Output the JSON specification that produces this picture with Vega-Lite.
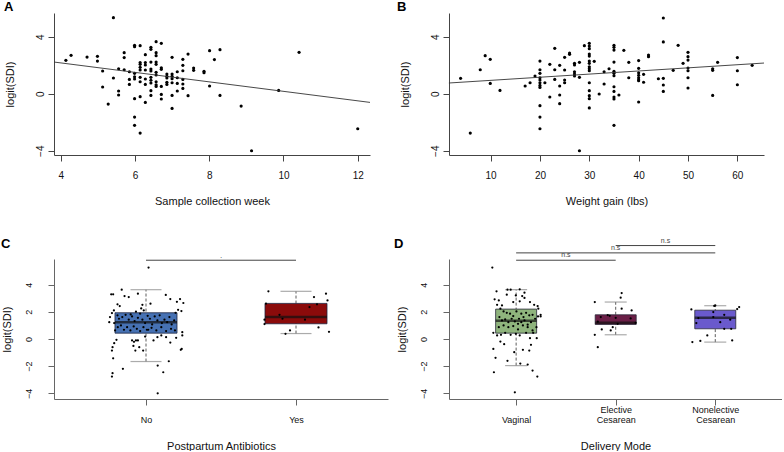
{
"$schema": "https://vega.github.io/schema/vega-lite/v6.json",
"autosize": {"type": "pad"},
"padding": {"left": 0, "top": 0, "right": 0, "bottom": 0},
"background": "white",
"config": {
 "font": "Liberation Sans",
 "view": {"stroke": null},
 "axis": {"grid": false, "domainColor": "#444", "tickColor": "#444", "labelColor": "#111", "titleColor": "#111", "titleFontWeight": "normal", "labelFontSize": 10, "titleFontSize": 11, "tickSize": 6, "domainWidth": 1, "tickWidth": 1},
 "title": {"fontSize": 13, "fontWeight": "bold", "anchor": "start", "frame": "bounds", "color": "black", "baseline": "alphabetic", "offset": 2}
},
"resolve": {"scale": {"color": "independent"}},
"datasets": {
 "a": [
 {"week":5.42,"sdi":5.33},{"week":4.14,"sdi":2.34},{"week":4.28,"sdi":2.69},{"week":4.71,"sdi":2.57},{"week":4.99,"sdi":2.62},{"week":4.99,"sdi":2.29},{"week":5.13,"sdi":1.59},{"week":5.13,"sdi":0.47},{"week":5.28,"sdi":-0.73},{"week":5.42,"sdi":1.10},
 {"week":5.56,"sdi":1.75},{"week":5.56,"sdi":0.19},{"week":5.56,"sdi":-0.09},{"week":5.71,"sdi":2.88},{"week":5.71,"sdi":2.53},{"week":5.71,"sdi":1.68},{"week":5.85,"sdi":1.54},{"week":5.85,"sdi":1.0},{"week":5.85,"sdi":0.65},
 {"week":5.99,"sdi":3.39},{"week":5.99,"sdi":3.30},{"week":5.99,"sdi":1.43},{"week":5.99,"sdi":1.19},{"week":5.99,"sdi":1.03},{"week":5.99,"sdi":-0.35},{"week":5.99,"sdi":-1.64},{"week":5.99,"sdi":-2.22},
 {"week":6.14,"sdi":3.37},{"week":6.14,"sdi":2.18},{"week":6.14,"sdi":2.06},{"week":6.14,"sdi":1.85},{"week":6.14,"sdi":1.66},{"week":6.14,"sdi":1.15},{"week":6.14,"sdi":0.84},{"week":6.14,"sdi":-0.21},{"week":6.14,"sdi":-2.76},
 {"week":6.28,"sdi":2.74},{"week":6.28,"sdi":2.18},{"week":6.28,"sdi":2.01},{"week":6.28,"sdi":1.66},{"week":6.28,"sdi":1.03},{"week":6.28,"sdi":0.65},{"week":6.28,"sdi":-0.61},
 {"week":6.43,"sdi":3.25},{"week":6.43,"sdi":3.11},{"week":6.43,"sdi":2.22},{"week":6.43,"sdi":1.73},{"week":6.43,"sdi":1.59},{"week":6.43,"sdi":1.15},{"week":6.43,"sdi":0.94},{"week":6.43,"sdi":0.75},{"week":6.43,"sdi":0.21},{"week":6.43,"sdi":-0.12},
 {"week":6.57,"sdi":3.65},{"week":6.57,"sdi":2.88},{"week":6.57,"sdi":2.67},{"week":6.57,"sdi":2.22},{"week":6.57,"sdi":2.06},{"week":6.57,"sdi":1.50},{"week":6.57,"sdi":1.31},{"week":6.57,"sdi":0.84},{"week":6.57,"sdi":0.63},{"week":6.57,"sdi":0.51},
 {"week":6.71,"sdi":3.53},{"week":6.71,"sdi":1.82},{"week":6.71,"sdi":1.71},{"week":6.71,"sdi":0.51},{"week":6.71,"sdi":-0.05},{"week":6.71,"sdi":-0.37},
 {"week":6.86,"sdi":1.38},{"week":6.86,"sdi":1.22},{"week":6.86,"sdi":1.10},{"week":6.86,"sdi":0.80},{"week":6.86,"sdi":0.65},
 {"week":7.0,"sdi":2.55},{"week":7.0,"sdi":1.38},{"week":7.0,"sdi":1.22},{"week":7.0,"sdi":1.05},{"week":7.0,"sdi":0.77},{"week":7.0,"sdi":-0.12},{"week":7.0,"sdi":-1.03},
 {"week":7.14,"sdi":1.54},{"week":7.14,"sdi":1.12},{"week":7.14,"sdi":0.72},{"week":7.14,"sdi":0.19},
 {"week":7.29,"sdi":2.41},{"week":7.29,"sdi":1.99},{"week":7.29,"sdi":1.61},{"week":7.29,"sdi":1.0},{"week":7.29,"sdi":0.68},{"week":7.29,"sdi":0.37},
 {"week":7.43,"sdi":2.78},{"week":7.43,"sdi":-0.14},{"week":7.58,"sdi":1.80},{"week":7.58,"sdi":1.64},{"week":7.86,"sdi":1.57},{"week":7.86,"sdi":1.47},{"week":8.01,"sdi":3.02},{"week":8.01,"sdi":0.54},{"week":8.14,"sdi":2.39},{"week":8.29,"sdi":3.09},{"week":8.29,"sdi":-0.12},{"week":8.86,"sdi":-0.87},{"week":9.14,"sdi":-4.0},{"week":9.87,"sdi":0.23},{"week":10.42,"sdi":2.90},{"week":12.0,"sdi":-2.46}
 ],
 "afit": [{"week":3.82,"sdi":2.22},{"week":12.33,"sdi":-0.61}],
 "b": [
 {"wg":3.92,"sdi":1.08},{"wg":5.88,"sdi":-2.76},{"wg":7.9,"sdi":1.68},{"wg":8.9,"sdi":2.67},{"wg":9.93,"sdi":2.41},{"wg":9.93,"sdi":0.72},{"wg":11.9,"sdi":0.23},{"wg":17,"sdi":0.54},{"wg":18,"sdi":0.77},{"wg":19,"sdi":1.24},
 {"wg":20,"sdi":2.29},{"wg":20,"sdi":1.68},{"wg":20,"sdi":1.43},{"wg":20,"sdi":1.12},{"wg":20,"sdi":0.96},{"wg":20,"sdi":0.77},{"wg":20,"sdi":0.58},{"wg":20,"sdi":0.44},{"wg":20,"sdi":-0.84},{"wg":20,"sdi":-1.64},{"wg":20,"sdi":-2.46},
 {"wg":21,"sdi":0.77},{"wg":22,"sdi":2.06},{"wg":22,"sdi":-0.23},{"wg":23,"sdi":3.18},{"wg":23,"sdi":1.68},{"wg":23,"sdi":1.0},{"wg":24,"sdi":1.99},{"wg":24,"sdi":0.54},{"wg":24,"sdi":-0.09},{"wg":24,"sdi":-0.70},
 {"wg":25,"sdi":2.55},{"wg":25,"sdi":1.66},{"wg":25,"sdi":0.96},{"wg":25,"sdi":0.77},{"wg":26,"sdi":2.85},{"wg":26,"sdi":2.76},
 {"wg":27,"sdi":2.13},{"wg":27,"sdi":2.01},{"wg":27,"sdi":1.54},{"wg":27,"sdi":1.38},{"wg":27,"sdi":1.24},{"wg":28,"sdi":2.2},{"wg":28,"sdi":1.15},{"wg":28,"sdi":-4.0},{"wg":29,"sdi":3.37},
 {"wg":30,"sdi":3.53},{"wg":30,"sdi":3.34},{"wg":30,"sdi":3.16},{"wg":30,"sdi":2.78},{"wg":30,"sdi":2.64},{"wg":30,"sdi":2.29},{"wg":30,"sdi":2.13},{"wg":30,"sdi":1.89},{"wg":30,"sdi":1.75},{"wg":30,"sdi":1.61},{"wg":30,"sdi":0.77},{"wg":30,"sdi":0.21},{"wg":30,"sdi":-0.14},{"wg":30,"sdi":-0.35},{"wg":30,"sdi":-1.0},
 {"wg":31,"sdi":2.27},{"wg":32,"sdi":-0.02},{"wg":33,"sdi":1.54},{"wg":33,"sdi":0.68},{"wg":34,"sdi":1.75},
 {"wg":35,"sdi":3.39},{"wg":35,"sdi":3.25},{"wg":35,"sdi":3.06},{"wg":35,"sdi":2.22},{"wg":35,"sdi":1.57},{"wg":35,"sdi":1.43},{"wg":35,"sdi":1.26},{"wg":35,"sdi":0.49},{"wg":35,"sdi":0.16},{"wg":35,"sdi":-0.23},{"wg":35,"sdi":-0.37},{"wg":35,"sdi":-2.22},
 {"wg":36,"sdi":-0.09},{"wg":37,"sdi":3.04},{"wg":38,"sdi":2.2},{"wg":38,"sdi":1.12},
 {"wg":40,"sdi":2.32},{"wg":40,"sdi":1.78},{"wg":40,"sdi":1.47},{"wg":40,"sdi":1.29},{"wg":40,"sdi":1.12},{"wg":40,"sdi":0.98},{"wg":40,"sdi":0.91},{"wg":40,"sdi":-0.58},
 {"wg":41,"sdi":1.36},{"wg":41,"sdi":0.80},{"wg":42,"sdi":2.71},{"wg":42,"sdi":2.6},{"wg":44,"sdi":1.05},
 {"wg":45,"sdi":5.31},{"wg":45,"sdi":3.63},{"wg":45,"sdi":1.08},{"wg":45,"sdi":0.61},{"wg":45,"sdi":0.16},{"wg":47,"sdi":1.64},{"wg":48,"sdi":3.39},{"wg":49,"sdi":2.13},
 {"wg":50,"sdi":2.90},{"wg":50,"sdi":2.60},{"wg":50,"sdi":2.36},{"wg":50,"sdi":1.80},{"wg":50,"sdi":1.61},{"wg":50,"sdi":1.12},{"wg":50,"sdi":0.40},
 {"wg":55,"sdi":1.75},{"wg":55,"sdi":1.64},{"wg":55,"sdi":-0.12},{"wg":56,"sdi":2.2},{"wg":60,"sdi":2.53},{"wg":60,"sdi":1.61},{"wg":60,"sdi":0.63},{"wg":63,"sdi":1.99}
 ],
 "bfit": [{"wg":1.55,"sdi":0.75},{"wg":65.4,"sdi":2.15}],
 "cbox": [
 {"group":"No","pos":1,"lo":-1.66,"q1":0.43,"med":1.24,"q3":1.93,"hi":3.63},
 {"group":"Yes","pos":2,"lo":0.40,"q1":1.12,"med":1.61,"q3":2.62,"hi":3.51}
 ],
 "cpts": [
 {"pos":1.017,"sdi":5.26},{"pos":0.838,"sdi":3.63},{"pos":0.768,"sdi":3.29},{"pos":0.781,"sdi":3.29},{"pos":0.857,"sdi":3.16},{"pos":0.885,"sdi":3.09},{"pos":0.946,"sdi":3.34},{"pos":1.132,"sdi":3.24},{"pos":1.162,"sdi":2.94},{"pos":1.227,"sdi":2.94},{"pos":1.206,"sdi":2.74},{"pos":1.249,"sdi":2.65},{"pos":1.030,"sdi":2.60},{"pos":0.976,"sdi":2.52},{"pos":0.810,"sdi":2.55},{"pos":0.825,"sdi":2.42},{"pos":0.786,"sdi":2.10},{"pos":0.773,"sdi":1.91},{"pos":0.760,"sdi":1.61},{"pos":0.755,"sdi":1.24},{"pos":0.968,"sdi":2.25},{"pos":0.985,"sdi":2.10},{"pos":0.933,"sdi":2.01},{"pos":0.898,"sdi":1.81},{"pos":1.214,"sdi":2.15},{"pos":1.236,"sdi":2.06},{"pos":1.197,"sdi":1.93},
 {"pos":0.810,"sdi":1.74},{"pos":0.820,"sdi":1.49},{"pos":0.842,"sdi":1.61},{"pos":0.864,"sdi":1.78},{"pos":0.885,"sdi":1.42},{"pos":0.907,"sdi":1.66},{"pos":0.924,"sdi":1.32},{"pos":0.946,"sdi":1.56},{"pos":0.961,"sdi":1.86},{"pos":0.976,"sdi":1.42},{"pos":0.994,"sdi":1.17},{"pos":1.011,"sdi":1.71},{"pos":1.026,"sdi":1.49},{"pos":1.041,"sdi":1.07},{"pos":1.058,"sdi":1.66},{"pos":1.076,"sdi":1.37},{"pos":1.091,"sdi":1.74},{"pos":1.106,"sdi":1.17},{"pos":1.123,"sdi":1.42},{"pos":1.141,"sdi":1.24},{"pos":1.156,"sdi":1.61},{"pos":1.171,"sdi":1.07},{"pos":1.188,"sdi":1.37},
 {"pos":0.812,"sdi":0.87},{"pos":0.833,"sdi":1.0},{"pos":0.853,"sdi":0.68},{"pos":0.874,"sdi":0.87},{"pos":0.896,"sdi":0.63},{"pos":0.918,"sdi":0.92},{"pos":0.939,"sdi":0.75},{"pos":0.961,"sdi":0.58},{"pos":0.983,"sdi":0.87},{"pos":1.015,"sdi":0.68},{"pos":1.037,"sdi":0.82},{"pos":1.069,"sdi":0.63},{"pos":1.102,"sdi":0.87},{"pos":1.134,"sdi":0.58},{"pos":1.167,"sdi":0.75},{"pos":1.193,"sdi":0.63},{"pos":0.788,"sdi":1.17},{"pos":0.794,"sdi":0.63},
 {"pos":0.803,"sdi":-0.06},{"pos":0.788,"sdi":-0.31},{"pos":0.777,"sdi":-0.60},{"pos":0.773,"sdi":-0.85},{"pos":0.907,"sdi":-0.11},{"pos":0.920,"sdi":-0.21},{"pos":0.933,"sdi":-0.11},{"pos":0.946,"sdi":-0.11},{"pos":0.916,"sdi":-0.51},{"pos":0.929,"sdi":-0.85},{"pos":0.981,"sdi":-0.85},{"pos":0.955,"sdi":-0.60},{"pos":0.994,"sdi":0.18},{"pos":1.006,"sdi":0.68},{"pos":1.050,"sdi":-0.11},{"pos":1.102,"sdi":0.26},{"pos":1.134,"sdi":0.13},{"pos":1.162,"sdi":-0.26},{"pos":1.201,"sdi":0.09},{"pos":1.242,"sdi":0.26},{"pos":1.242,"sdi":0.50},{"pos":1.232,"sdi":-0.80},{"pos":1.238,"sdi":-0.73},{"pos":1.076,"sdi":0.13},
 {"pos":0.781,"sdi":-1.42},{"pos":0.846,"sdi":-2.20},{"pos":0.777,"sdi":-2.52},{"pos":0.773,"sdi":-2.77},{"pos":1.078,"sdi":-1.96},{"pos":1.115,"sdi":-2.45},{"pos":1.152,"sdi":-1.64},{"pos":1.078,"sdi":-4.0},
 {"pos":1.816,"sdi":3.51},{"pos":2.12,"sdi":3.09},{"pos":2.2,"sdi":3.34},{"pos":2.21,"sdi":2.84},{"pos":2.09,"sdi":2.35},{"pos":2.14,"sdi":2.55},{"pos":1.80,"sdi":2.6},{"pos":1.89,"sdi":1.78},{"pos":1.91,"sdi":1.49},{"pos":2.06,"sdi":1.42},{"pos":1.79,"sdi":1.42},{"pos":1.79,"sdi":1.1},{"pos":2.15,"sdi":0.85},{"pos":2.22,"sdi":0.53},{"pos":1.96,"sdi":0.63},{"pos":1.93,"sdi":0.38}
 ],
 "csig": [{"x1":1,"x2":2,"y":5.8,"lx":1.5,"ly":6.0,"label":"."}],
 "dbox": [
 {"group":"Vaginal","pos":1,"lo":-1.96,"q1":0.43,"med":1.34,"q3":2.20,"hi":3.63},
 {"group":"Elective","pos":2,"lo":0.31,"q1":1.07,"med":1.2,"q3":1.78,"hi":2.72},
 {"group":"Nonelective","pos":3,"lo":-0.23,"q1":0.75,"med":1.56,"q3":2.12,"hi":2.45}
 ],
 "dpts": [
 {"pos":0.761,"sdi":5.26},{"pos":0.913,"sdi":3.63},{"pos":0.945,"sdi":3.63},{"pos":1.036,"sdi":3.66},{"pos":1.084,"sdi":3.41},{"pos":1.061,"sdi":3.16},{"pos":0.997,"sdi":3.21},{"pos":0.906,"sdi":3.26},{"pos":0.803,"sdi":3.51},{"pos":0.784,"sdi":2.92},{"pos":0.826,"sdi":2.84},{"pos":0.809,"sdi":2.52},{"pos":0.858,"sdi":2.47},{"pos":0.971,"sdi":2.72},{"pos":1.036,"sdi":2.77},{"pos":1.084,"sdi":3.02},{"pos":1.139,"sdi":2.72},{"pos":1.181,"sdi":2.52},{"pos":1.216,"sdi":2.42},{"pos":1.223,"sdi":2.23},{"pos":1.246,"sdi":1.78},{"pos":1.246,"sdi":1.66},{"pos":1.220,"sdi":1.66},
 {"pos":0.842,"sdi":2.23},{"pos":0.874,"sdi":2.03},{"pos":0.906,"sdi":1.93},{"pos":0.939,"sdi":1.86},{"pos":0.971,"sdi":1.69},{"pos":1.003,"sdi":2.03},{"pos":1.029,"sdi":1.49},{"pos":1.052,"sdi":1.86},{"pos":1.074,"sdi":1.61},{"pos":1.100,"sdi":1.93},{"pos":1.132,"sdi":1.74},{"pos":1.165,"sdi":1.78},{"pos":0.832,"sdi":1.61},{"pos":0.858,"sdi":1.37},{"pos":0.890,"sdi":1.44},{"pos":0.922,"sdi":1.24},{"pos":0.955,"sdi":1.49},{"pos":0.987,"sdi":1.29},{"pos":1.019,"sdi":1.12},{"pos":1.052,"sdi":1.24},{"pos":1.084,"sdi":1.37},{"pos":1.116,"sdi":1.05},{"pos":1.149,"sdi":1.24},{"pos":1.191,"sdi":1.49},
 {"pos":0.826,"sdi":0.87},{"pos":0.874,"sdi":1.0},{"pos":0.922,"sdi":0.87},{"pos":0.971,"sdi":0.95},{"pos":1.019,"sdi":0.70},{"pos":1.068,"sdi":1.0},{"pos":1.116,"sdi":0.87},{"pos":1.165,"sdi":0.63},{"pos":1.204,"sdi":0.87},{"pos":0.771,"sdi":0.45},{"pos":0.809,"sdi":0.26},{"pos":0.848,"sdi":0.31},{"pos":0.890,"sdi":0.45},{"pos":0.945,"sdi":0.31},{"pos":0.997,"sdi":0.38},{"pos":1.036,"sdi":0.26},{"pos":1.100,"sdi":0.45},{"pos":1.139,"sdi":0.06},{"pos":1.171,"sdi":0.45},
 {"pos":0.842,"sdi":-0.19},{"pos":0.880,"sdi":-0.38},{"pos":0.771,"sdi":-0.73},{"pos":0.981,"sdi":-0.97},{"pos":1.068,"sdi":-0.80},{"pos":1.132,"sdi":-0.85},{"pos":1.149,"sdi":-0.43},{"pos":1.207,"sdi":0.06},{"pos":0.793,"sdi":-1.39},{"pos":0.913,"sdi":-1.61},{"pos":1.042,"sdi":-1.81},{"pos":1.116,"sdi":-1.88},{"pos":1.165,"sdi":-2.33},{"pos":1.213,"sdi":-2.77},{"pos":0.777,"sdi":-2.45},{"pos":0.987,"sdi":-3.93},
 {"pos":2.06,"sdi":3.38},{"pos":2.05,"sdi":3.04},{"pos":1.79,"sdi":2.72},{"pos":2.06,"sdi":2.23},{"pos":2.16,"sdi":2.10},{"pos":1.85,"sdi":1.61},{"pos":1.92,"sdi":1.76},{"pos":1.94,"sdi":1.71},{"pos":2.0,"sdi":1.56},{"pos":2.15,"sdi":1.51},{"pos":2.02,"sdi":1.12},{"pos":2.20,"sdi":1.19},{"pos":1.82,"sdi":1.27},{"pos":1.97,"sdi":0.87},{"pos":1.95,"sdi":0.63},{"pos":1.86,"sdi":0.70},{"pos":1.79,"sdi":0.31},{"pos":1.82,"sdi":-0.60},
 {"pos":2.76,"sdi":2.18},{"pos":3.0,"sdi":2.47},{"pos":2.99,"sdi":2.43},{"pos":3.22,"sdi":2.2},{"pos":3.24,"sdi":2.35},{"pos":2.98,"sdi":1.98},{"pos":3.09,"sdi":1.78},{"pos":2.98,"sdi":1.61},{"pos":2.83,"sdi":1.54},{"pos":3.15,"sdi":1.42},{"pos":2.81,"sdi":1.17},{"pos":3.05,"sdi":1.24},{"pos":3.09,"sdi":0.75},{"pos":3.16,"sdi":0.75},{"pos":2.92,"sdi":0.26},{"pos":2.77,"sdi":-0.23},{"pos":2.85,"sdi":-0.14},{"pos":3.17,"sdi":-0.11}
 ],
 "dsig": [
 {"x1":1,"x2":2,"y":5.8,"lx":1.5,"ly":6.02,"label":"n.s"},
 {"x1":1,"x2":3,"y":6.34,"lx":2.0,"ly":6.56,"label":"n.s"},
 {"x1":2,"x2":3,"y":6.88,"lx":2.5,"ly":7.1,"label":"n.s"}
 ]
},
"columns": 2,
"bounds": "flush",
"spacing": {"row": 104, "column": 61},
"concat": [
 {
  "width": 316, "height": 142,
  "title": {"text": "A", "dx": 0, "dy": 2.5},
  "layer": [
   {"data": {"name": "a"}, "mark": {"type": "circle", "size": 10, "color": "black", "opacity": 1},
    "encoding": {
     "x": {"field": "week", "type": "quantitative", "scale": {"domain": [3.82, 12.33], "nice": false, "zero": false}, "axis": {"values": [4,6,8,10,12], "title": "Sample collection week", "labelPadding": 9, "titlePadding": 15}},
     "y": {"field": "sdi", "type": "quantitative", "scale": {"domain": [-4.3, 5.66], "nice": false, "zero": false}, "axis": {"values": [-4,-2,0,2,4], "title": "logit(SDI)", "labelAngle": -90, "labelAlign": "center", "labelBaseline": "bottom", "labelPadding": 3, "titlePadding": 20}}
    }},
   {"data": {"name": "afit"}, "mark": {"type": "line", "color": "#333", "strokeWidth": 0.9},
    "encoding": {"x": {"field": "week", "type": "quantitative"}, "y": {"field": "sdi", "type": "quantitative"}}}
  ]
 },
 {
  "width": 315, "height": 142,
  "title": {"text": "B", "dx": -2, "dy": 2.5},
  "layer": [
   {"data": {"name": "b"}, "mark": {"type": "circle", "size": 10, "color": "black", "opacity": 1},
    "encoding": {
     "x": {"field": "wg", "type": "quantitative", "scale": {"domain": [1.57, 65.4], "nice": false, "zero": false}, "axis": {"values": [10,20,30,40,50,60], "title": "Weight gain (lbs)", "labelPadding": 9, "titlePadding": 15}},
     "y": {"field": "sdi", "type": "quantitative", "scale": {"domain": [-4.3, 5.66], "nice": false, "zero": false}, "axis": {"values": [-4,-2,0,2,4], "title": "logit(SDI)", "labelAngle": -90, "labelAlign": "center", "labelBaseline": "bottom", "labelPadding": 3, "titlePadding": 20}}
    }},
   {"data": {"name": "bfit"}, "mark": {"type": "line", "color": "#333", "strokeWidth": 0.9},
    "encoding": {"x": {"field": "wg", "type": "quantitative"}, "y": {"field": "sdi", "type": "quantitative"}}}
  ]
 },
 {
  "width": 334, "height": 140,
  "title": {"text": "C", "dx": 0, "dy": 1},
  "encoding": {
   "x": {"field": "pos", "type": "quantitative", "scale": {"domain": [0.42, 2.58], "nice": false, "zero": false}, "axis": {"values": [1,2], "labelExpr": "datum.value == 1 ? 'No' : 'Yes'", "title": "Postpartum Antibiotics", "labelFontSize": 9, "labelPadding": 10, "titlePadding": 16, "domainColor": "#666", "tickColor": "#666"}},
   "y": {"type": "quantitative", "scale": {"domain": [-4.42, 5.89], "nice": false, "zero": false}, "axis": {"values": [-4,-2,0,2,4], "title": "logit(SDI)", "labelAngle": -90, "labelAlign": "center", "labelBaseline": "bottom", "labelFontSize": 9, "labelPadding": 15, "titlePadding": 12, "domainColor": "#666", "tickColor": "#666"}}
  },
  "layer": [
   {"data": {"name": "cbox"}, "mark": {"type": "rule", "color": "#333", "strokeDash": [3, 2], "strokeWidth": 0.8}, "encoding": {"y": {"field": "lo"}, "y2": {"field": "hi"}}},
   {"data": {"name": "cbox"}, "mark": {"type": "tick", "orient": "horizontal", "size": 31, "thickness": 1.2, "color": "#888"}, "encoding": {"y": {"field": "lo"}}},
   {"data": {"name": "cbox"}, "mark": {"type": "tick", "orient": "horizontal", "size": 31, "thickness": 1.2, "color": "#888"}, "encoding": {"y": {"field": "hi"}}},
   {"data": {"name": "cbox"}, "mark": {"type": "bar", "size": 62, "stroke": "#1c2340", "strokeWidth": 0.8, "opacity": 1},
    "encoding": {"y": {"field": "q1"}, "y2": {"field": "q3"}, "color": {"field": "group", "type": "nominal", "scale": {"domain": ["No", "Yes"], "range": ["#4671B3", "#8B0B0B"]}, "legend": null}}},
   {"data": {"name": "cbox"}, "mark": {"type": "tick", "orient": "horizontal", "size": 62, "thickness": 2.5, "color": "#111"}, "encoding": {"y": {"field": "med"}}},
   {"data": {"name": "cpts"}, "mark": {"type": "circle", "size": 5, "color": "black", "opacity": 1}, "encoding": {"y": {"field": "sdi"}}},
   {"data": {"name": "csig"}, "mark": {"type": "rule", "color": "#444", "strokeWidth": 1}, "encoding": {"x": {"field": "x1"}, "x2": {"field": "x2"}, "y": {"field": "y"}}},
   {"data": {"name": "csig"}, "mark": {"type": "text", "fontSize": 8, "color": "#444", "baseline": "alphabetic"}, "encoding": {"x": {"field": "lx"}, "y": {"field": "ly"}, "text": {"field": "label"}}}
  ]
 },
 {
  "width": 333, "height": 140,
  "title": {"text": "D", "dx": -2, "dy": 16},
  "encoding": {
   "x": {"field": "pos", "type": "quantitative", "scale": {"domain": [0.376, 3.62], "nice": false, "zero": false}, "axis": {"values": [1,2,3], "labelExpr": "datum.value == 1 ? ['', 'Vaginal'] : datum.value == 2 ? ['Elective', 'Cesarean'] : ['Nonelective', 'Cesarean']", "labelBaseline": "top", "labelLineHeight": 10, "title": "Delivery Mode", "labelFontSize": 9, "labelPadding": 0, "titlePadding": 16, "domainColor": "#666", "tickColor": "#666"}},
   "y": {"type": "quantitative", "scale": {"domain": [-4.42, 5.89], "nice": false, "zero": false}, "axis": {"values": [-4,-2,0,2,4], "title": "logit(SDI)", "labelAngle": -90, "labelAlign": "center", "labelBaseline": "bottom", "labelFontSize": 9, "labelPadding": 15, "titlePadding": 12, "domainColor": "#666", "tickColor": "#666"}}
  },
  "layer": [
   {"data": {"name": "dbox"}, "mark": {"type": "rule", "color": "#333", "strokeDash": [3, 2], "strokeWidth": 0.8}, "encoding": {"y": {"field": "lo"}, "y2": {"field": "hi"}}},
   {"data": {"name": "dbox"}, "mark": {"type": "tick", "orient": "horizontal", "size": 22, "thickness": 1.2, "color": "#888"}, "encoding": {"y": {"field": "lo"}}},
   {"data": {"name": "dbox"}, "mark": {"type": "tick", "orient": "horizontal", "size": 22, "thickness": 1.2, "color": "#888"}, "encoding": {"y": {"field": "hi"}}},
   {"data": {"name": "dbox"}, "mark": {"type": "bar", "size": 41, "stroke": "#2a2a3a", "strokeWidth": 0.8, "opacity": 1},
    "encoding": {"y": {"field": "q1"}, "y2": {"field": "q3"}, "color": {"field": "group", "type": "nominal", "scale": {"domain": ["Vaginal", "Elective", "Nonelective"], "range": ["#8FB47D", "#6B1F47", "#6A5ACD"]}, "legend": null}}},
   {"data": {"name": "dbox"}, "mark": {"type": "tick", "orient": "horizontal", "size": 41, "thickness": 2.5, "color": "#111"}, "encoding": {"y": {"field": "med"}}},
   {"data": {"name": "dpts"}, "mark": {"type": "circle", "size": 5, "color": "black", "opacity": 1}, "encoding": {"y": {"field": "sdi"}}},
   {"data": {"name": "dsig"}, "mark": {"type": "rule", "color": "#444", "strokeWidth": 1}, "encoding": {"x": {"field": "x1"}, "x2": {"field": "x2"}, "y": {"field": "y"}}},
   {"data": {"name": "dsig"}, "mark": {"type": "text", "fontSize": 7, "color": "#444", "baseline": "alphabetic"}, "encoding": {"x": {"field": "lx"}, "y": {"field": "ly"}, "text": {"field": "label"}}}
  ]
 }
]
}
